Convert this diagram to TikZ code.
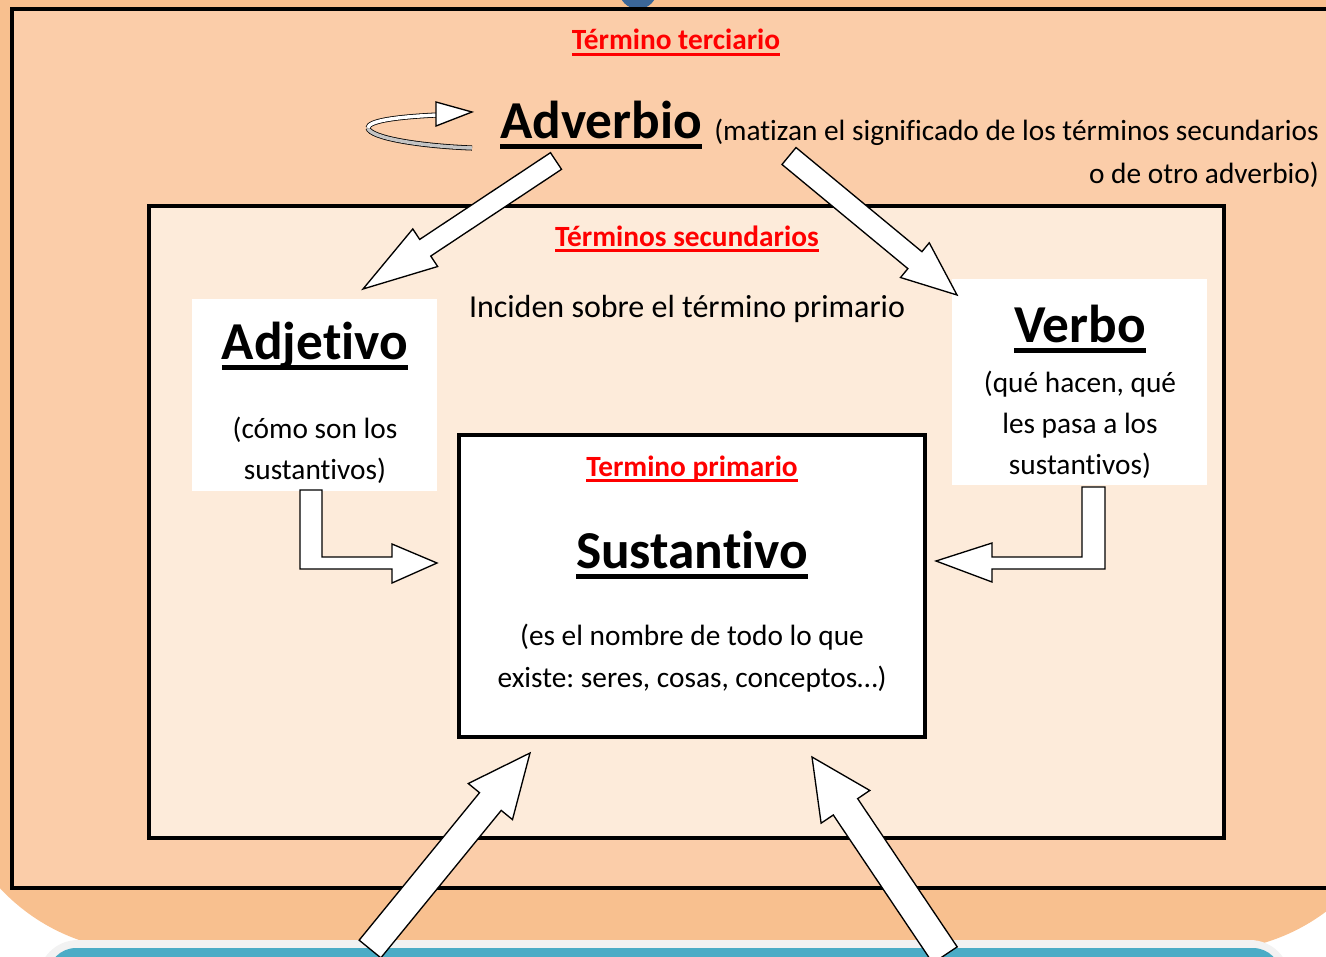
\documentclass[tikz,border=0pt]{standalone}
\usepackage{fontspec}
\setmainfont{Carlito}[Ligatures=NoCommon]
\usepackage{tikz}
\usetikzlibrary{calc}
\frenchspacing
\definecolor{deeporange}{HTML}{F8C08F}
\definecolor{lightorange}{HTML}{FBCDA9}
\definecolor{paleorange}{HTML}{FDEBDA}
\definecolor{bandgray}{HTML}{F2F2F2}
\definecolor{bandblue}{HTML}{4BACC6}
\definecolor{dotblue}{HTML}{3B6698}
\definecolor{ribbongray}{HTML}{C4C4C4}
\newcommand{\bigul}[1]{\setbox0\hbox{#1}\rlap{\rule[-8pt]{\wd0}{3.5pt}}\box0}
\newcommand{\redul}[1]{\setbox0\hbox{#1}\rlap{\rule[-4.2pt]{\wd0}{2.3pt}}\box0}
\newcommand{\blockarrow}[5]{%
  \coordinate (ba-c) at ($(#2)!#5!(#1)$);
  \draw[fatarrow] ($(#1)!#3!90:(#2)$) -- ($(ba-c)!#3!90:(#2)$) -- ($(ba-c)!#4!90:(#2)$) -- (#2)
    -- ($(ba-c)!#4!-90:(#2)$) -- ($(ba-c)!#3!-90:(#2)$) -- ($(#1)!#3!-90:(#2)$) -- cycle;}
\tikzstyle{redtitle} = [font=\fontsize{22}{26}\selectfont\bfseries, text=red, inner sep=0pt, anchor=base]
\tikzstyle{bigword} = [font=\fontsize{40}{48}\selectfont\bfseries, inner sep=0pt, anchor=base]
\tikzstyle{plaintext} = [font=\fontsize{24}{30.5}\selectfont, inner sep=0pt, anchor=base, align=center]
\tikzstyle{desctext} = [font=\fontsize{22}{30.5}\selectfont, inner sep=0pt, anchor=base, align=center]
\tikzstyle{fatarrow} = [draw, fill=white, line width=1pt, line join=miter]
\tikzstyle{frame} = [draw, line width=2.6pt]
\tikzstyle{ribbon} = [line width=0.6pt, double distance=2.6pt]

\begin{document}
\begin{tikzpicture}[x=0.75pt, y=-0.75pt]
                \useasboundingbox (0,0) rectangle (1326,956);
                \clip (0,0) rectangle (1326,956);
                \fill[deeporange, rounded corners=148pt] (-53,-300) rectangle (1405,951);
                \fill[dotblue] (638,-10) circle[radius=19];
                \draw[frame, fill=lightorange] (12,9) rectangle (1345,888);
                \draw[frame, fill=paleorange] (149,206) rectangle (1224,838);
                \fill[white] (192,299) rectangle (437,491);
                \fill[white] (952,279) rectangle (1207,485);
                \draw[frame, fill=white] (459,435) rectangle (925,737);
                \fill[bandgray, rounded corners=30pt] (38,940) rectangle (1290,1010);
                \fill[bandblue, rounded corners=21pt] (48,948) rectangle (1281,1010);
                \node (terc) [redtitle] at (676,50) {\redul{Término terciario}};
                \node (adv) [bigword, anchor=base west] at (500,138) {\bigul{Adverbio}};
                \node (advdesc) [desctext, font=\fontsize{22}{32}\selectfont, anchor=base east, align=right] at (1319,183) {(matizan el significado de los términos secundarios\\o de otro adverbio)};
                \node (sec) [redtitle] at (687,246) {\redul{Términos secundarios}};
                \node (inc) [plaintext] at (687,317) {Inciden sobre el término primario};
                \node (adj) [bigword] at (315,359) {\bigul{Adjetivo}};
                \node (adjdesc) [desctext] at (315,479) {(cómo son los\\sustantivos)};
                \node (verb) [bigword] at (1080,342) {\bigul{Verbo}};
                \node (verbdesc) [desctext] at (1080,474) {(qué hacen, qué\\les pasa a los\\sustantivos)};
                \node (prim) [redtitle] at (692,476) {\redul{Termino primario}};
                \node (sust) [bigword] at (692,568) {\bigul{Sustantivo}};
                \node (sustdesc) [desctext, font=\fontsize{22}{31.5}\selectfont] at (692,687) {(es el nombre de todo lo que\\existe: seres, cosas, conceptos…)};
                \draw[ribbon, double=ribbongray] (472,148) .. controls (420,146) and (370,138) .. (368,128);
                \draw[ribbon, double=white] (368,128) .. controls (368,121) and (395,117) .. (437,115);
                \draw[fatarrow] (436,102) -- (472,112) -- (436,126) -- cycle;
                \coordinate (advleft) at (556,161);
                \coordinate (adjtip) at (363,289);
                \coordinate (advright) at (789,156);
                \coordinate (verbtip) at (957,295);
                \coordinate (lowleft) at (370,949);
                \coordinate (sustleft) at (530,753);
                \coordinate (lowright) at (945,955);
                \coordinate (sustright) at (812,757);
                \blockarrow{advleft}{adjtip}{7.5pt}{16.9pt}{56pt}
                \blockarrow{advright}{verbtip}{8.25pt}{16.9pt}{41pt}
                \blockarrow{lowleft}{sustleft}{10.5pt}{21.4pt}{47pt}
                \blockarrow{lowright}{sustright}{11pt}{22pt}{45pt}
                \draw[fatarrow] (300,490) -- (322,490) -- (322,557) -- (392,557) -- (392,544) -- (437,563) -- (392,583) -- (392,569) -- (300,569) -- cycle;
                \draw[fatarrow] (1105,487) -- (1082,487) -- (1082,557) -- (992,557) -- (992,543) -- (936,561) -- (992,582) -- (992,569) -- (1105,569) -- cycle;
\end{tikzpicture}
\end{document}
